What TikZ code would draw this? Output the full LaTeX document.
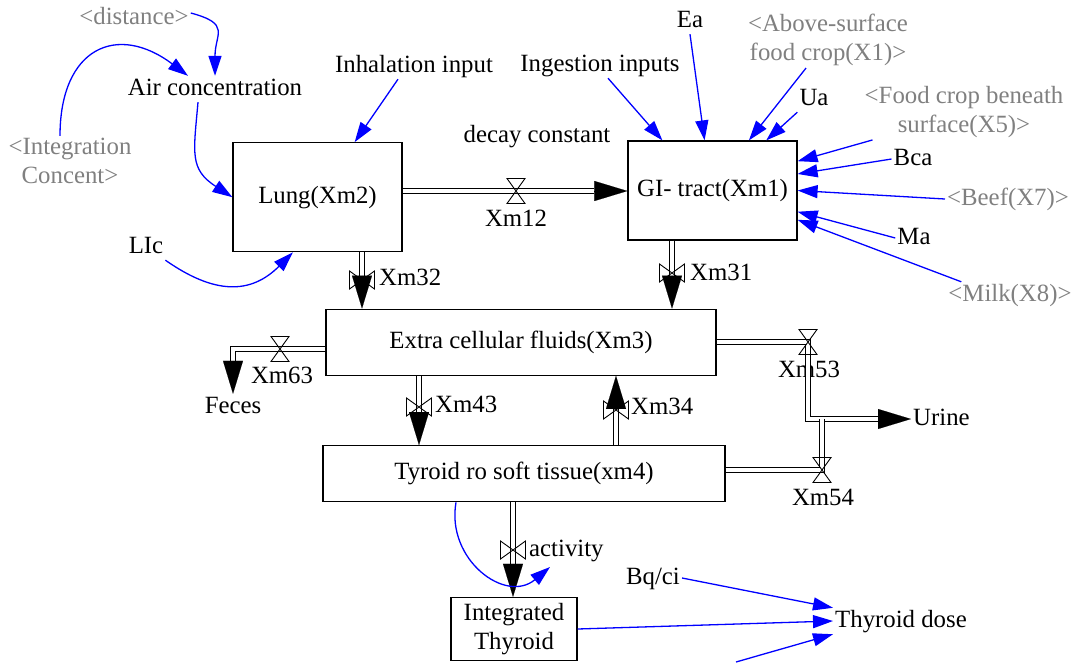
\documentclass[tikz,border=0pt]{standalone}
\usepackage{fontspec}
\setmainfont{Liberation Serif}
\usepackage{tikz}
\usetikzlibrary{arrows.meta}
\usetikzlibrary{calc}
\definecolor{linkColor}{RGB}{0,0,255}
\definecolor{ghostColor}{RGB}{128,128,128}

\begin{document}
\begin{tikzpicture}[x=1pt,y=-1pt,
    every node/.style={font=\fontsize{24.8}{29}\selectfont},
    box/.style={draw, line width=1.2pt, inner sep=0pt},
    lbl/.style={inner sep=2pt, text height=17pt, text depth=5pt},
    ghost/.style={text=ghostColor, align=center, inner sep=2pt},
    info/.style={linkColor, line width=1.3pt, -{Triangle[length=20pt,width=13pt]}},
    pipe/.style={line width=1.1pt, double=white, double distance=4.4pt},
    flowtip/.style={line width=0.1pt, -{Triangle[length=33pt,width=20pt]}},
    gate/.style={line width=0.9pt},
]
\newcommand\Valve{+(-9,-12.5) -- +(9,-12.5) -- +(-9,12.5) -- +(9,12.5) -- cycle}
\newcommand\ValveV{+(-12.5,-9) -- +(-12.5,9) -- +(12.5,-9) -- +(12.5,9) -- cycle}
\useasboundingbox (0,0) rectangle (1073,662);

\node [box, minimum width=169pt, minimum height=109pt] (lung) at (317.5,197.2) {Lung(Xm2)};
\node [box, minimum width=169pt, minimum height=99pt] (gi) at (712.5,190.5) {GI- tract(Xm1)};
\node [box, minimum width=390pt, minimum height=66pt] (ecf) at (521,342.2) {Extra cellular fluids(Xm3)};
\node [box, minimum width=402pt, minimum height=56pt] (tyroid) at (524,473.7) {Tyroid ro soft tissue(xm4)};
\node [box, align=center, minimum width=126pt, minimum height=63pt] (integ) at (514,629) {Integrated\\Thyroid};

\node [lbl, text=ghostColor] (dist) at (134,18) {<distance>};
\node [lbl] (air) at (215,89) {Air concentration};
\node [ghost] (intconc) at (70,161) {<Integration\\Concent>};
\node [lbl] (lic) at (146,247) {LIc};
\node [lbl] (inhal) at (414,66) {Inhalation input};
\node [lbl] (decay) at (537,136) {decay constant};
\node [lbl] (ingest) at (600,65) {Ingestion inputs};
\node [lbl] (ea) at (690,21) {Ea};
\node [ghost] (above) at (828,40) {<Above-surface\\food crop(X1)>};
\node [lbl] (ua) at (814,99) {Ua};
\node [ghost] (beneath) at (964,112) {<Food crop beneath\\surface(X5)>};
\node [lbl] (bca) at (913,159) {Bca};
\node [lbl, text=ghostColor] (beef) at (1008,199) {<Beef(X7)>};
\node [lbl] (ma) at (914,238) {Ma};
\node [lbl, text=ghostColor] (milk) at (1010,295) {<Milk(X8)>};
\node [lbl] (feces) at (233,407) {Feces};
\node [lbl, anchor=west] (urine) at (911,419) {Urine};
\node [lbl] (bq) at (653,578) {Bq/ci};
\node [lbl] (dose) at (901,621) {Thyroid dose};
\coordinate (offlink) at (736,662);

\coordinate (v12) at (516,191);
\coordinate (v32) at (362,280);
\coordinate (v31) at (672,273);
\coordinate (v63) at (280,349);
\coordinate (v53) at (808,342);
\coordinate (v43) at (419,407);
\coordinate (v34) at (616,410);
\coordinate (v54) at (822,470);
\coordinate (vact) at (513,550);

\node [lbl] (l12) at (516,220) {Xm12};
\node [lbl, anchor=west] (l32) at (377,279) {Xm32};
\node [lbl, anchor=west] (l31) at (688,274) {Xm31};
\node [lbl] (l63) at (282,377) {Xm63};
\node [lbl] (l53) at (809,371) {Xm53};
\node [lbl, anchor=west] (l43) at (433,406) {Xm43};
\node [lbl, anchor=west] (l34) at (629,408) {Xm34};
\node [lbl] (l54) at (823,499) {Xm54};
\node [lbl, anchor=west] (lact) at (527,550) {activity};

\draw [pipe] (lung.east |- v12) -- ($(gi.west |- v12)+(-33,0)$);
\draw [gate] (v12) \Valve;
\draw [flowtip] ($(gi.west |- v12)+(-33,0)$) -- (gi.west |- v12);

\draw [pipe] (lung.south -| v32) -- ($(ecf.north -| v32)+(0,-33)$);
\draw [gate] (v32) \ValveV;
\draw [flowtip] ($(ecf.north -| v32)+(0,-33)$) -- (ecf.north -| v32);

\draw [pipe] (gi.south -| v31) -- ($(ecf.north -| v31)+(0,-33)$);
\draw [gate] (v31) \ValveV;
\draw [flowtip] ($(ecf.north -| v31)+(0,-33)$) -- (ecf.north -| v31);

\draw [pipe] (ecf.west |- v63) -- (feces.north |- v63) -- ($(feces.north)+(0,-33)$);
\draw [gate] (v63) \Valve;
\draw [flowtip] ($(feces.north)+(0,-33)$) -- (feces.north);

\draw [pipe] (ecf.east |- v53) -- (v53) -- (v53 |- urine.west) -- ($(urine.west)+(-33,0)$);
\draw [pipe] (tyroid.east |- v54) -- (v54) -- (v54 |- urine.west);
\draw [gate] (v53) \Valve;
\draw [gate] (v54) \Valve;
\draw [flowtip] ($(urine.west)+(-33,0)$) -- (urine.west);

\draw [pipe] (ecf.south -| v43) -- ($(tyroid.north -| v43)+(0,-33)$);
\draw [gate] (v43) \ValveV;
\draw [flowtip] ($(tyroid.north -| v43)+(0,-33)$) -- (tyroid.north -| v43);

\draw [pipe] (tyroid.north -| v34) -- ($(ecf.south -| v34)+(0,33)$);
\draw [gate] (v34) \ValveV;
\draw [flowtip] ($(ecf.south -| v34)+(0,33)$) -- (ecf.south -| v34);

\draw [pipe] (tyroid.south -| vact) -- ($(integ.north -| vact)+(0,-33)$);
\draw [gate] (vact) \ValveV;
\draw [flowtip] ($(integ.north -| vact)+(0,-33)$) -- (integ.north -| vact);

\draw [info] ([yshift=5pt]dist.east) to[out=-15, in=90, looseness=1.6] (air.north);
\draw [info] ([xshift=-10pt]intconc.north) to[out=90, in=143, looseness=1.6] ([xshift=-27pt]air.north);
\draw [info] ([xshift=-17pt]air.south) to[out=-95, in=147, looseness=1.3] (lung.west);
\draw [info] (lic.south east) to[out=-35, in=-135, looseness=1.2] (lung.246);
\draw [info] ([xshift=-16pt]inhal.south) -- (lung.56);

\draw [info] ([xshift=8pt]ingest.south) -- (gi.135);
\draw [info] (ea.south) -- (gi.99);
\draw [info] ([xshift=-22pt]above.south) -- (gi.54);
\draw [info] (ua.south west) -- (gi.43);
\draw [info] ([xshift=10pt]beneath.south west) -- (gi.19);
\draw [info] (bca.west) -- (gi.11);
\draw [info] (beef.west) -- (gi.east);
\draw [info] (ma.west) -- (gi.346);
\draw [info] ([xshift=15pt]milk.north west) -- (gi.341);

\draw [info] ([xshift=-68pt]tyroid.south) to[out=260, in=220, looseness=1.3] ([shift={(37,17)}]vact);
\draw [info] (bq.east) -- (dose.north west);
\draw [info] (integ.east) -- (dose.west);
\draw [info] (offlink) -- (dose.south west);
\end{tikzpicture}
\end{document}
